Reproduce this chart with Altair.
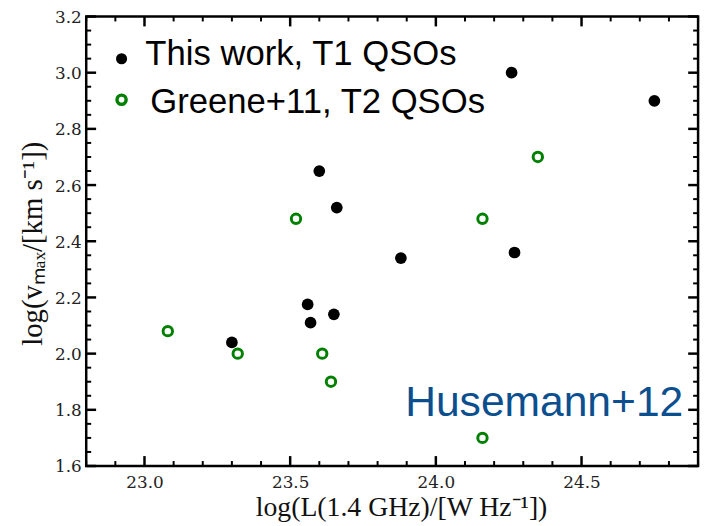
import altair as alt
import pandas as pd

# ---- data ----
t1_x = [23.30, 23.56, 23.57, 23.65, 23.60, 23.66, 23.88, 24.27, 24.26, 24.75]
t1_y = [2.04, 2.175, 2.11, 2.14, 2.65, 2.52, 2.34, 2.36, 3.00, 2.90]
t2_x = [23.08, 23.32, 23.61, 23.64, 24.16, 24.35, 23.52, 24.16]
t2_y = [2.08, 2.00, 2.00, 1.90, 1.70, 2.70, 2.48, 2.48]

legend_labels = ["This work, T1 QSOs", "Greene+11, T2 QSOs"]
annotation = "Husemann+12"

x_major = [23.0, 23.5, 24.0, 24.5]
x_minor = [22.8, 22.9, 23.1, 23.2, 23.3, 23.4, 23.6, 23.7, 23.8, 23.9,
           24.1, 24.2, 24.3, 24.4, 24.6, 24.7, 24.8, 24.9]
y_major = [1.6, 1.8, 2.0, 2.2, 2.4, 2.6, 2.8, 3.0, 3.2]
y_minor = [1.65, 1.7, 1.75, 1.85, 1.9, 1.95, 2.05, 2.1, 2.15, 2.25, 2.3, 2.35,
           2.45, 2.5, 2.55, 2.65, 2.7, 2.75, 2.85, 2.9, 2.95, 3.05, 3.1, 3.15]

W, H = 618, 454
GREEN = "#008000"

x_scale = alt.Scale(domain=[22.8, 24.9], nice=False, zero=False)
y_scale = alt.Scale(domain=[1.6, 3.2], nice=False, zero=False)

ax_x = alt.Axis(
    values=x_major, format=".1f", domain=False, ticks=False, grid=False,
    labelFont="DejaVu Serif", labelFontSize=17, labelColor="#222222", labelPadding=9,
    title="log(L(1.4 GHz)/[W Hz⁻¹])", titleFont="Liberation Serif", titleFontSize=28,
    titleFontWeight="normal", titleColor="#111111",
    titleX=W / 2 + 9, titleY=50, titleBaseline="alphabetic", titleAnchor="middle",
)
ax_y = alt.Axis(
    values=y_major, format=".1f", domain=False, ticks=False, grid=False,
    labelFont="DejaVu Serif", labelFontSize=17, labelColor="#222222", labelPadding=5,
    labelOffset=1,
    title="log(vₘₐₓ/[km s⁻¹])", titleFont="Liberation Serif", titleFontSize=29,
    titleFontWeight="normal", titleColor="#111111",
    titleX=-54, titleY=H / 2 + 2, titleAngle=-90, titleBaseline="middle", titleAlign="center",
)

X = lambda f: alt.X(f, type="quantitative", scale=x_scale, axis=ax_x)
Y = lambda f: alt.Y(f, type="quantitative", scale=y_scale, axis=ax_y)

df1 = pd.DataFrame({"x": t1_x, "y": t1_y})
df2 = pd.DataFrame({"x": t2_x, "y": t2_y})

t1 = alt.Chart(df1).mark_circle(size=140, color="black", opacity=1).encode(x=X("x"), y=Y("y"))
t2 = alt.Chart(df2).mark_point(shape="circle", size=90, strokeWidth=3, color=GREEN,
                               filled=False, opacity=1).encode(x=X("x"), y=Y("y"))

def xticks(vals, length, width):
    d = pd.DataFrame({"x": vals})
    bottom = alt.Chart(d).mark_rule(color="black", strokeWidth=width).encode(
        x=X("x"), y=alt.value(H), y2=alt.value(H - length))
    top = alt.Chart(d).mark_rule(color="black", strokeWidth=width).encode(
        x=X("x"), y=alt.value(0), y2=alt.value(length))
    return [bottom, top]

def yticks(vals, length, width):
    d = pd.DataFrame({"y": vals})
    left = alt.Chart(d).mark_rule(color="black", strokeWidth=width).encode(
        y=Y("y"), x=alt.value(0), x2=alt.value(length))
    right = alt.Chart(d).mark_rule(color="black", strokeWidth=width).encode(
        y=Y("y"), x=alt.value(W), x2=alt.value(W - length))
    return [left, right]

ticks = xticks(x_major, 10, 2.5) + xticks(x_minor, 5, 2) + yticks(y_major, 10, 2.5) + yticks(y_minor, 5, 2)

one = pd.DataFrame({"a": [0]})
leg_dot = alt.Chart(one).mark_circle(size=125, color="black", opacity=1).encode(
    x=alt.value(35.7), y=alt.value(42.7))
leg_ring = alt.Chart(one).mark_point(shape="circle", size=85, strokeWidth=3.5, color=GREEN,
                                     filled=False, opacity=1).encode(
    x=alt.value(35.7), y=alt.value(84))
leg_t1 = alt.Chart(one).mark_text(align="left", baseline="alphabetic", fontSize=35,
                                  font="Liberation Sans", color="black").encode(
    x=alt.value(59.7), y=alt.value(49.3), text=alt.value(legend_labels[0]))
leg_t2 = alt.Chart(one).mark_text(align="left", baseline="alphabetic", fontSize=35,
                                  font="Liberation Sans", color="black").encode(
    x=alt.value(64.7), y=alt.value(97.7), text=alt.value(legend_labels[1]))
husemann = alt.Chart(one).mark_text(align="right", baseline="alphabetic", fontSize=43,
                                    font="Liberation Sans", color="#0b4f8f").encode(
    x=alt.value(603), y=alt.value(403), text=alt.value(annotation))
red_bit = alt.Chart(one).mark_rect(color="red").encode(
    x=alt.value(-87), x2=alt.value(-84), y=alt.value(454), y2=alt.value(461))

chart = alt.layer(
    t2, t1, *ticks, leg_dot, leg_ring, leg_t1, leg_t2, husemann, red_bit
).properties(
    width=W, height=H,
    autosize=alt.AutoSizeParams(type="none"),
    padding={"left": 79, "top": 6, "right": 8, "bottom": 57},
).configure(
    background="white",
    view=alt.ViewConfig(stroke="black", strokeWidth=2.5),
)

chart.save("out.html", embed_options={"renderer": "svg", "actions": False})
